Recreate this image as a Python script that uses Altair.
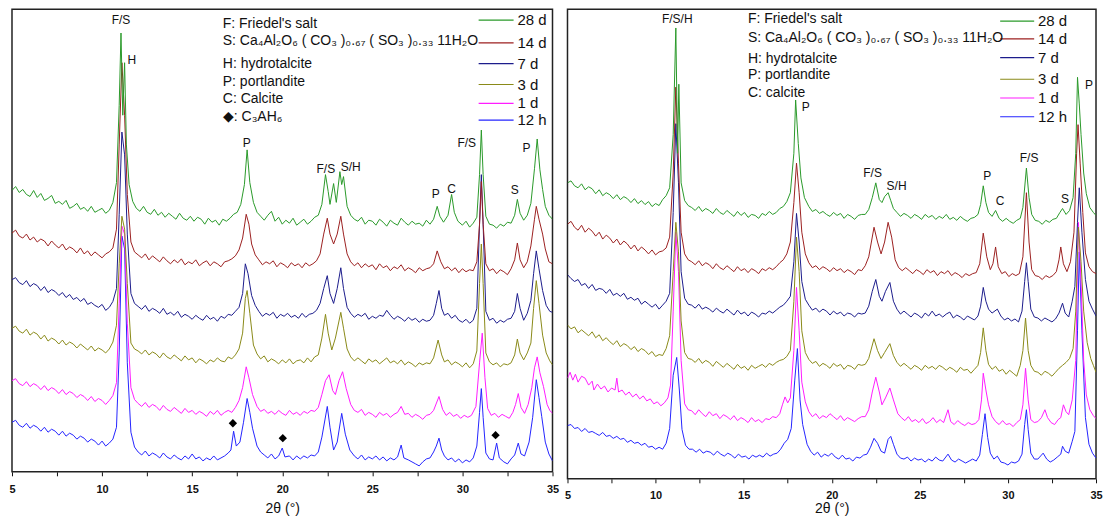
import altair as alt
import pandas as pd

# samples, top to bottom
SERIES = ["28 d", "14 d", "7 d", "3 d", "1 d", "12 h"]
COLORS = ["#2a9a2a", "#9c2020", "#1c1c8c", "#8a8a18", "#ff1cff", "#2424ff"]

# ---------------------------------------------------------------------------
# left panel patterns (2theta, intensity a.u. with stacking offset)
# ---------------------------------------------------------------------------
L28 = [(5.0,284),(5.2,288),(5.4,282),(5.6,285),(5.8,280),(6.0,278),(6.2,284),(6.4,277),(6.6,281),(6.8,274),
       (7.0,276),(7.2,279),(7.4,271),(7.6,273),(7.8,270),(8.0,274),(8.2,266),(8.4,268),(8.6,271),(8.8,265),
       (9.0,267),(9.2,263),(9.4,268),(9.6,262),(9.8,264),(10.0,266),(10.2,261),(10.4,264),(10.6,272),(10.8,292),
       (10.95,370),(11.05,443),(11.15,360),(11.25,413),(11.35,330),(11.5,290),(11.7,273),(11.9,266),(12.1,263),
       (12.3,268),(12.5,262),(12.7,260),(12.9,265),(13.1,259),(13.3,262),(13.5,257),(13.7,261),(13.9,258),
       (14.1,255),(14.3,261),(14.5,256),(14.7,254),(14.9,258),(15.1,253),(15.3,257),(15.5,255),(15.7,250),
       (15.9,256),(16.1,252),(16.3,254),(16.5,249),(16.7,255),(16.9,253),(17.1,256),(17.3,260),(17.5,262),
       (17.7,270),(17.9,290),(18.05,325),(18.2,292),(18.4,272),(18.6,262),(18.8,258),(19.0,254),(19.2,259),
       (19.4,263),(19.6,253),(19.8,257),(20.0,250),(20.2,254),(20.4,251),(20.6,256),(20.8,249),(21.0,252),
       (21.2,255),(21.4,250),(21.6,253),(21.8,257),(22.0,259),(22.2,270),(22.4,300),(22.55,283),(22.65,270),
       (22.85,291),(23.0,272),(23.2,303),(23.3,290),(23.4,298),(23.6,268),(23.8,259),(24.0,255),(24.2,253),
       (24.4,257),(24.6,250),(24.8,254),(25.0,253),(25.2,249),(25.4,255),(25.6,252),(25.8,248),(26.0,254),
       (26.2,251),(26.4,249),(26.6,256),(26.8,252),(27.0,249),(27.2,253),(27.4,250),(27.6,251),(27.8,248),
       (28.0,254),(28.2,250),(28.4,255),(28.6,268),(28.75,258),(28.95,252),(29.2,259),(29.4,280),(29.55,262),
       (29.75,253),(30.0,249),(30.2,253),(30.4,247),(30.6,251),(30.8,257),(30.95,300),(31.05,345),(31.15,300),
       (31.3,258),(31.5,250),(31.7,249),(31.9,246),(32.1,250),(32.3,248),(32.5,252),(32.7,251),(32.9,259),
       (33.05,275),(33.2,261),(33.4,254),(33.6,259),(33.8,271),(34.0,306),(34.15,336),(34.3,305),(34.45,285),
       (34.6,268),(34.8,259),(35.0,255)]

L14 = [(5.0,241),(5.2,244),(5.4,238),(5.6,236),(5.8,240),(6.0,234),(6.2,237),(6.4,232),(6.6,235),(6.8,233),
       (7.0,228),(7.2,233),(7.4,229),(7.6,226),(7.8,230),(8.0,224),(8.2,227),(8.4,225),(8.6,221),(8.8,226),
       (9.0,220),(9.2,223),(9.4,218),(9.6,222),(9.8,219),(10.0,216),(10.2,220),(10.4,222),(10.6,226),(10.8,245),
       (10.95,330),(11.1,413),(11.25,360),(11.4,280),(11.6,232),(11.8,222),(12.0,219),(12.2,216),(12.4,220),
       (12.6,214),(12.8,218),(13.0,215),(13.2,212),(13.4,217),(13.6,213),(13.8,210),(14.0,214),(14.2,211),
       (14.4,215),(14.6,209),(14.8,212),(15.0,210),(15.2,214),(15.4,208),(15.6,211),(15.8,213),(16.0,208),
       (16.2,212),(16.4,210),(16.6,207),(16.8,212),(17.0,213),(17.2,215),(17.4,218),(17.6,224),(17.8,236),
       (18.0,260),(18.15,250),(18.3,230),(18.5,219),(18.7,214),(18.9,209),(19.1,212),(19.3,210),(19.5,213),
       (19.7,207),(19.9,211),(20.1,209),(20.3,206),(20.5,211),(20.7,208),(20.9,210),(21.1,206),(21.3,211),
       (21.5,208),(21.7,210),(21.9,213),(22.1,220),(22.3,240),(22.5,256),(22.65,240),(22.85,230),(23.05,240),
       (23.25,258),(23.4,240),(23.6,220),(23.8,212),(24.0,208),(24.2,211),(24.4,206),(24.6,210),(24.8,207),
       (25.0,209),(25.2,204),(25.4,210),(25.6,206),(25.8,208),(26.0,203),(26.2,207),(26.4,205),(26.6,209),
       (26.8,203),(27.0,206),(27.2,204),(27.4,201),(27.6,206),(27.8,203),(28.0,205),(28.2,206),(28.4,210),
       (28.6,223),(28.8,212),(29.0,205),(29.2,207),(29.4,203),(29.6,206),(29.8,201),(30.0,205),(30.2,202),
       (30.4,204),(30.6,203),(30.8,212),(30.95,250),(31.05,293),(31.15,250),(31.3,210),(31.5,203),(31.7,205),
       (31.9,200),(32.1,204),(32.3,202),(32.5,199),(32.7,205),(32.9,214),(33.05,231),(33.2,214),(33.4,206),
       (33.6,212),(33.8,228),(34.0,255),(34.1,268),(34.25,255),(34.45,240),(34.6,225),(34.8,212),(35.0,210)]

L7 = [(5.0,194),(5.2,196),(5.4,191),(5.6,189),(5.8,193),(6.0,187),(6.2,190),(6.4,188),(6.6,183),(6.8,187),
      (7.0,181),(7.2,184),(7.4,182),(7.6,178),(7.8,181),(8.0,176),(8.2,179),(8.4,174),(8.6,176),(8.8,172),
      (9.0,175),(9.2,169),(9.4,171),(9.6,168),(9.8,166),(10.0,169),(10.2,163),(10.4,166),(10.6,172),(10.8,185),
      (10.95,260),(11.1,343),(11.25,320),(11.4,240),(11.6,180),(11.8,170),(12.0,167),(12.2,164),(12.4,168),
      (12.6,162),(12.8,165),(13.0,163),(13.2,160),(13.4,165),(13.6,159),(13.8,161),(14.0,158),(14.2,162),
      (14.4,156),(14.6,159),(14.8,157),(15.0,154),(15.2,158),(15.4,155),(15.6,153),(15.8,158),(16.0,154),
      (16.2,156),(16.4,152),(16.6,157),(16.8,155),(17.0,159),(17.2,158),(17.4,162),(17.6,166),(17.8,180),
      (17.95,210),(18.1,200),(18.3,178),(18.5,168),(18.7,162),(18.9,157),(19.1,160),(19.3,158),(19.5,161),
      (19.7,155),(19.9,159),(20.1,157),(20.3,160),(20.5,156),(20.7,158),(20.9,155),(21.1,160),(21.3,156),
      (21.5,159),(21.7,160),(21.9,163),(22.1,170),(22.3,185),(22.5,198),(22.65,180),(22.85,170),(23.05,185),
      (23.25,206),(23.4,185),(23.6,166),(23.8,160),(24.0,156),(24.2,159),(24.4,157),(24.6,160),(24.8,154),
      (25.0,157),(25.2,155),(25.4,158),(25.6,157),(25.8,163),(26.0,158),(26.2,154),(26.4,157),(26.6,155),
      (26.8,152),(27.0,156),(27.2,153),(27.4,155),(27.6,151),(27.8,154),(28.0,152),(28.2,153),(28.4,158),
      (28.55,170),(28.7,183),(28.85,165),(29.0,158),(29.2,160),(29.4,155),(29.6,158),(29.8,153),(30.0,151),
      (30.2,154),(30.4,150),(30.6,153),(30.8,165),(30.95,250),(31.05,300),(31.15,250),(31.3,162),(31.5,153),
      (31.7,155),(31.9,150),(32.1,153),(32.3,151),(32.5,154),(32.7,155),(32.9,162),(33.05,180),(33.2,165),
      (33.4,153),(33.6,160),(33.8,173),(33.95,200),(34.1,223),(34.25,205),(34.45,183),(34.65,168),(34.85,162),
      (35.0,161)]

L3 = [(5.0,145),(5.2,147),(5.4,142),(5.6,140),(5.8,144),(6.0,138),(6.2,141),(6.4,139),(6.6,134),(6.8,138),
      (7.0,132),(7.2,135),(7.4,133),(7.6,129),(7.8,133),(8.0,128),(8.2,131),(8.4,129),(8.6,125),(8.8,129),
      (9.0,126),(9.2,123),(9.4,127),(9.6,122),(9.8,125),(10.0,123),(10.2,120),(10.4,124),(10.6,131),(10.8,148),
      (10.95,210),(11.1,258),(11.25,245),(11.4,190),(11.6,130),(11.8,124),(12.0,122),(12.2,119),(12.4,123),
      (12.6,118),(12.8,121),(13.0,119),(13.2,115),(13.4,120),(13.6,116),(13.8,114),(14.0,118),(14.2,115),
      (14.4,112),(14.6,117),(14.8,113),(15.0,115),(15.2,110),(15.4,114),(15.6,112),(15.8,109),(16.0,113),
      (16.2,111),(16.4,115),(16.6,112),(16.8,111),(17.0,116),(17.2,114),(17.4,118),(17.6,124),(17.8,140),
      (17.95,175),(18.05,183),(18.2,160),(18.4,128),(18.6,119),(18.8,114),(19.0,117),(19.2,111),(19.4,114),
      (19.6,112),(19.8,109),(20.0,113),(20.2,110),(20.4,114),(20.6,109),(20.8,112),(21.0,113),(21.2,110),
      (21.4,115),(21.6,111),(21.8,116),(22.0,118),(22.2,135),(22.4,159),(22.55,140),(22.75,123),(22.95,135),
      (23.25,161),(23.4,145),(23.6,124),(23.8,116),(24.0,112),(24.2,115),(24.4,112),(24.6,109),(24.8,114),
      (25.0,111),(25.2,113),(25.4,109),(25.6,112),(25.8,115),(26.0,110),(26.2,112),(26.4,109),(26.6,113),
      (26.8,108),(27.0,111),(27.2,109),(27.4,106),(27.6,110),(27.8,108),(28.0,110),(28.2,109),(28.4,115),
      (28.65,133),(28.85,118),(29.0,111),(29.2,113),(29.4,108),(29.6,111),(29.8,109),(30.0,106),(30.2,110),
      (30.4,105),(30.6,109),(30.8,122),(30.95,190),(31.05,230),(31.15,190),(31.3,120),(31.5,111),(31.7,108),
      (31.9,110),(32.1,106),(32.3,109),(32.5,108),(32.7,110),(32.9,118),(33.05,134),(33.2,120),(33.4,113),
      (33.6,120),(33.8,130),(33.95,165),(34.1,193),(34.25,170),(34.45,138),(34.65,120),(34.85,112),(35.0,108)]

L1 = [(5.0,92),(5.2,94),(5.4,89),(5.6,87),(5.8,91),(6.0,86),(6.2,89),(6.4,87),(6.6,83),(6.8,87),
      (7.0,82),(7.2,85),(7.4,83),(7.6,79),(7.8,83),(8.0,78),(8.2,81),(8.4,79),(8.6,75),(8.8,78),
      (9.0,76),(9.2,72),(9.4,76),(9.6,71),(9.8,74),(10.0,72),(10.2,68),(10.4,72),(10.6,77),(10.8,90),
      (10.95,170),(11.1,248),(11.25,240),(11.4,150),(11.6,85),(11.8,73),(12.0,69),(12.2,66),(12.4,70),
      (12.6,65),(12.8,68),(13.0,66),(13.2,62),(13.4,67),(13.6,63),(13.8,61),(14.0,65),(14.2,62),(14.4,59),
      (14.6,64),(14.8,60),(15.0,62),(15.2,58),(15.4,61),(15.6,59),(15.8,56),(16.0,61),(16.2,58),(16.4,62),
      (16.6,57),(16.8,60),(17.0,62),(17.2,60),(17.4,65),(17.6,72),(17.8,85),(18.0,106),(18.15,95),(18.35,78),
      (18.6,66),(18.8,61),(19.0,63),(19.2,59),(19.4,61),(19.6,58),(19.8,62),(20.0,59),(20.2,57),(20.4,62),
      (20.6,58),(20.8,60),(21.0,57),(21.2,61),(21.4,59),(21.6,62),(21.8,61),(22.0,65),(22.2,78),(22.4,92),
      (22.6,98),(22.8,82),(22.95,78),(23.15,92),(23.35,101),(23.55,84),(23.8,68),(24.0,62),(24.2,60),
      (24.4,63),(24.6,57),(24.8,60),(25.0,58),(25.2,55),(25.4,60),(25.6,57),(25.8,59),(26.0,55),(26.2,58),
      (26.4,60),(26.6,66),(26.8,58),(27.0,59),(27.2,55),(27.4,58),(27.6,56),(27.8,53),(28.0,57),(28.2,58),
      (28.4,62),(28.7,76),(28.9,63),(29.1,57),(29.3,60),(29.5,56),(29.7,58),(29.9,54),(30.1,57),(30.3,55),
      (30.5,57),(30.75,66),(30.95,110),(31.1,140),(31.25,95),(31.4,64),(31.6,57),(31.8,59),(32.0,55),
      (32.2,58),(32.4,56),(32.6,54),(32.8,60),(32.95,68),(33.1,79),(33.25,65),(33.45,59),(33.65,68),
      (33.85,85),(34.0,105),(34.15,116),(34.3,100),(34.5,86),(34.7,68),(34.85,62),(35.0,59)]

L12H = [(5.0,50),(5.2,52),(5.4,47),(5.6,45),(5.8,49),(6.0,44),(6.2,47),(6.4,45),(6.6,41),(6.8,45),
        (7.0,40),(7.2,43),(7.4,41),(7.6,37),(7.8,41),(8.0,36),(8.2,39),(8.4,37),(8.6,33),(8.8,36),
        (9.0,34),(9.2,30),(9.4,33),(9.6,31),(9.8,27),(10.0,31),(10.2,26),(10.4,29),(10.6,33),(10.8,45),
        (10.95,120),(11.1,238),(11.25,225),(11.4,110),(11.6,40),(11.8,25),(12.0,20),(12.2,17),(12.4,21),
        (12.6,16),(12.8,19),(13.0,17),(13.2,14),(13.4,19),(13.6,15),(13.8,13),(14.0,17),(14.2,14),(14.4,12),
        (14.6,16),(14.8,13),(15.0,18),(15.2,13),(15.4,15),(15.6,11),(15.8,14),(16.0,12),(16.2,16),(16.4,12),
        (16.6,14),(16.8,16),(17.0,19),(17.15,22),(17.3,41),(17.45,26),(17.65,30),(17.85,50),(18.05,74),
        (18.2,60),(18.35,44),(18.6,26),(18.8,20),(19.0,17),(19.2,14),(19.4,18),(19.6,13),(19.8,16),(20.0,24),
        (20.15,15),(20.4,16),(20.6,12),(20.8,16),(21.0,13),(21.2,16),(21.4,14),(21.6,17),(21.8,16),(22.0,20),
        (22.2,35),(22.5,66),(22.65,45),(22.85,22),(23.05,30),(23.3,59),(23.5,38),(23.75,22),(24.0,16),
        (24.2,13),(24.4,17),(24.6,12),(24.8,15),(25.0,13),(25.2,16),(25.4,12),(25.6,15),(25.8,11),(26.0,14),
        (26.2,12),(26.4,15),(26.6,27),(26.75,14),(27.0,12),(27.2,10),(27.4,8),(27.6,6),(27.8,10),(28.0,13),
        (28.2,14),(28.4,20),(28.55,26),(28.7,34),(28.85,22),(29.0,16),(29.2,12),(29.4,14),(29.6,10),(29.8,13),
        (30.0,9),(30.2,12),(30.4,10),(30.6,14),(30.8,26),(30.95,60),(31.05,84),(31.15,55),(31.3,19),
        (31.5,13),(31.7,12),(31.9,29),(32.05,14),(32.3,10),(32.5,8),(32.7,13),(32.9,17),(33.1,29),(33.25,18),
        (33.45,16),(33.7,30),(33.9,55),(34.1,93),(34.25,75),(34.4,56),(34.6,30),(34.8,18),(35.0,11)]

# ---------------------------------------------------------------------------
# right panel patterns
# ---------------------------------------------------------------------------
R28 = [(5.0,300),(5.2,302),(5.4,297),(5.6,295),(5.8,299),(6.0,293),(6.2,296),(6.4,294),(6.6,289),(6.8,293),
       (7.0,287),(7.2,290),(7.4,288),(7.6,284),(7.8,288),(8.0,283),(8.2,286),(8.4,284),(8.6,280),(8.8,284),
       (9.0,279),(9.2,282),(9.4,278),(9.6,281),(9.8,276),(10.0,279),(10.2,277),(10.4,283),(10.6,287),(10.8,295),
       (11.0,349),(11.15,457),(11.25,330),(11.32,400),(11.45,300),(11.65,282),(11.85,277),(12.05,275),
       (12.25,272),(12.45,276),(12.65,271),(12.85,274),(13.05,272),(13.25,269),(13.45,274),(13.65,270),
       (13.85,268),(14.05,272),(14.25,269),(14.45,266),(14.65,271),(14.85,267),(15.05,270),(15.25,265),
       (15.45,268),(15.65,267),(15.85,264),(16.05,269),(16.25,267),(16.45,271),(16.65,268),(16.85,270),
       (17.05,274),(17.25,276),(17.45,281),(17.65,290),(17.85,330),(17.95,384),(18.1,340),(18.25,305),
       (18.45,285),(18.7,276),(18.9,271),(19.1,273),(19.3,269),(19.5,271),(19.7,268),(19.9,266),(20.1,270),
       (20.3,267),(20.5,269),(20.7,264),(20.9,268),(21.1,266),(21.3,263),(21.5,267),(21.7,268),(21.9,268),
       (22.1,273),(22.3,285),(22.5,300),(22.7,283),(22.85,280),(23.0,286),(23.2,290),(23.35,282),(23.5,274),
       (23.7,270),(23.9,266),(24.1,269),(24.3,267),(24.5,264),(24.7,268),(24.9,266),(25.1,263),(25.3,268),
       (25.5,265),(25.7,267),(25.9,263),(26.1,266),(26.3,264),(26.5,268),(26.7,263),(26.9,265),(27.1,262),
       (27.3,266),(27.5,263),(27.7,261),(27.9,264),(28.1,265),(28.3,268),(28.45,278),(28.6,297),(28.75,280),
       (28.9,270),(29.1,266),(29.3,272),(29.5,264),(29.7,261),(29.9,264),(30.1,261),(30.3,259),(30.5,262),
       (30.7,264),(30.85,275),(31.05,315),(31.2,285),(31.35,268),(31.55,262),(31.75,261),(31.95,258),
       (32.15,262),(32.35,260),(32.55,263),(32.75,264),(32.95,270),(33.1,274),(33.3,268),(33.5,272),
       (33.7,285),(33.85,330),(33.95,407),(34.05,380),(34.15,349),(34.3,310),(34.45,289),(34.65,275),
       (34.85,270),(35.0,267)]

R14 = [(5.0,258),(5.2,261),(5.4,255),(5.6,252),(5.8,257),(6.0,250),(6.2,254),(6.4,251),(6.6,246),(6.8,250),
       (7.0,243),(7.2,247),(7.4,244),(7.6,239),(7.8,243),(8.0,237),(8.2,241),(8.4,238),(8.6,233),(8.8,237),
       (9.0,231),(9.2,235),(9.4,232),(9.6,228),(9.8,232),(10.0,227),(10.2,230),(10.4,231),(10.6,234),(10.8,245),
       (11.0,310),(11.15,397),(11.3,320),(11.45,250),(11.65,228),(11.85,222),(12.05,220),(12.25,217),
       (12.45,221),(12.65,216),(12.85,219),(13.05,217),(13.25,213),(13.45,218),(13.65,214),(13.85,212),
       (14.05,216),(14.25,213),(14.45,210),(14.65,215),(14.85,211),(15.05,213),(15.25,209),(15.45,213),
       (15.65,211),(15.85,208),(16.05,213),(16.25,211),(16.45,214),(16.65,212),(16.85,215),(17.05,219),
       (17.25,222),(17.45,228),(17.65,240),(17.85,280),(18.0,320),(18.15,290),(18.3,250),(18.5,228),
       (18.7,219),(18.9,214),(19.1,216),(19.3,212),(19.5,215),(19.7,213),(19.9,210),(20.1,214),(20.3,211),
       (20.5,213),(20.7,209),(20.9,212),(21.1,210),(21.3,207),(21.5,212),(21.7,211),(21.9,216),(22.1,225),
       (22.4,255),(22.6,240),(22.8,228),(23.0,240),(23.2,260),(23.4,245),(23.6,222),(23.8,214),(24.0,211),
       (24.2,214),(24.4,211),(24.6,208),(24.8,212),(25.0,210),(25.2,207),(25.4,212),(25.6,209),(25.8,211),
       (26.0,206),(26.2,210),(26.4,208),(26.6,211),(26.8,206),(27.0,209),(27.2,207),(27.4,204),(27.6,208),
       (27.8,206),(28.0,208),(28.2,209),(28.4,218),(28.6,249),(28.8,225),(29.0,212),(29.15,218),(29.3,235),
       (29.45,215),(29.65,208),(29.85,210),(30.05,205),(30.25,208),(30.45,206),(30.65,208),(30.85,225),
       (31.05,290),(31.2,240),(31.35,212),(31.55,206),(31.75,205),(31.95,202),(32.15,206),(32.35,204),
       (32.55,206),(32.75,210),(32.9,222),(33.0,235),(33.15,218),(33.35,210),(33.55,220),(33.75,250),
       (33.9,330),(33.98,359),(34.1,320),(34.25,270),(34.4,229),(34.6,215),(34.8,210),(35.0,208)]

R7 = [(5.0,207),(5.2,203),(5.4,200),(5.6,202),(5.8,196),(6.0,198),(6.2,193),(6.4,197),(6.6,191),(6.8,193),
      (7.0,192),(7.2,188),(7.4,192),(7.6,186),(7.8,188),(8.0,185),(8.2,188),(8.4,182),(8.6,184),(8.8,181),
      (9.0,183),(9.2,177),(9.4,180),(9.6,177),(9.8,174),(10.0,177),(10.2,172),(10.4,176),(10.6,180),(10.8,188),
      (11.0,270),(11.15,360),(11.3,300),(11.45,210),(11.65,183),(11.85,177),(12.05,176),(12.25,173),
      (12.45,177),(12.65,172),(12.85,174),(13.05,172),(13.25,169),(13.45,173),(13.65,170),(13.85,168),
      (14.05,172),(14.25,169),(14.45,166),(14.65,171),(14.85,167),(15.05,169),(15.25,165),(15.45,169),
      (15.65,167),(15.85,164),(16.05,168),(16.25,167),(16.45,170),(16.65,168),(16.85,171),(17.05,174),
      (17.25,176),(17.45,180),(17.65,185),(17.85,220),(18.0,269),(18.15,240),(18.3,200),(18.5,182),
      (18.7,176),(18.9,171),(19.1,173),(19.3,169),(19.5,172),(19.7,170),(19.9,166),(20.1,170),(20.3,167),
      (20.5,169),(20.7,165),(20.9,168),(21.1,167),(21.3,164),(21.5,168),(21.7,167),(21.9,168),(22.1,175),
      (22.3,190),(22.5,202),(22.7,185),(22.85,180),(23.05,190),(23.3,199),(23.5,180),(23.7,172),(23.9,167),
      (24.1,170),(24.3,167),(24.5,164),(24.7,168),(24.9,166),(25.1,163),(25.3,168),(25.5,165),(25.7,170),
      (25.9,165),(26.1,167),(26.3,164),(26.5,167),(26.7,169),(26.9,163),(27.1,166),(27.3,164),(27.5,161),
      (27.7,165),(27.9,163),(28.1,161),(28.3,165),(28.45,175),(28.6,194),(28.75,180),(28.9,172),(29.1,168),
      (29.4,172),(29.6,165),(29.8,161),(30.0,163),(30.2,160),(30.4,162),(30.6,159),(30.8,170),(30.95,200),
      (31.05,219),(31.15,200),(31.3,172),(31.5,164),(31.7,163),(31.9,160),(32.1,163),(32.3,161),(32.5,159),
      (32.7,162),(32.9,168),(33.1,178),(33.25,168),(33.45,164),(33.65,180),(33.8,195),(33.95,260),
      (34.05,295),(34.2,250),(34.4,202),(34.6,180),(34.8,172),(35.0,165)]

R3 = [(5.0,156),(5.2,152),(5.4,154),(5.6,148),(5.8,151),(6.0,148),(6.2,145),(6.4,149),(6.6,143),(6.8,146),
      (7.0,140),(7.2,143),(7.4,139),(7.6,136),(7.8,140),(8.0,134),(8.2,137),(8.4,135),(8.6,131),(8.8,134),
      (9.0,129),(9.2,132),(9.4,130),(9.6,126),(9.8,129),(10.0,124),(10.2,126),(10.4,125),(10.6,132),(10.8,145),
      (11.0,210),(11.15,260),(11.3,230),(11.45,160),(11.65,128),(11.85,122),(12.05,121),(12.25,118),
      (12.45,122),(12.65,117),(12.85,120),(13.05,118),(13.25,114),(13.45,119),(13.65,116),(13.85,113),
      (14.05,117),(14.25,114),(14.45,111),(14.65,116),(14.85,112),(15.05,114),(15.25,110),(15.45,115),
      (15.65,112),(15.85,114),(16.05,116),(16.25,113),(16.45,117),(16.65,115),(16.85,118),(17.05,120),
      (17.25,121),(17.45,124),(17.65,130),(17.85,180),(18.0,245),(18.15,210),(18.3,150),(18.5,128),
      (18.7,121),(18.9,117),(19.1,119),(19.3,114),(19.5,117),(19.7,115),(19.9,112),(20.1,117),(20.3,114),
      (20.5,116),(20.7,111),(20.9,115),(21.1,114),(21.3,111),(21.5,116),(21.7,115),(21.9,116),(22.1,122),
      (22.4,142),(22.6,130),(22.8,122),(23.0,128),(23.3,137),(23.5,125),(23.7,118),(23.9,114),(24.1,117),
      (24.3,114),(24.5,111),(24.7,115),(24.9,113),(25.1,110),(25.3,115),(25.5,112),(25.7,114),(25.9,111),
      (26.1,115),(26.3,113),(26.5,110),(26.7,113),(26.9,111),(27.1,108),(27.3,113),(27.5,110),(27.7,111),
      (27.9,107),(28.1,111),(28.3,115),(28.45,128),(28.6,153),(28.75,130),(28.9,116),(29.1,111),(29.3,114),
      (29.5,109),(29.7,111),(29.9,106),(30.1,110),(30.3,107),(30.5,104),(30.7,115),(30.85,130),(31.0,163),
      (31.15,130),(31.3,115),(31.5,109),(31.7,108),(31.9,105),(32.1,109),(32.3,107),(32.5,104),(32.7,108),
      (32.9,112),(33.1,115),(33.3,118),(33.5,122),(33.7,132),(33.85,170),(34.0,255),(34.15,220),(34.3,170),
      (34.5,138),(34.7,122),(34.85,115),(35.0,108)]

R1 = [(5.0,102),(5.15,108),(5.3,100),(5.45,106),(5.6,98),(5.8,104),(6.0,102),(6.2,95),(6.4,99),(6.5,90),
      (6.7,96),(6.9,91),(7.1,94),(7.3,88),(7.5,92),(7.7,90),(7.8,102),(7.9,88),(8.1,90),(8.3,85),(8.5,88),
      (8.7,83),(8.9,86),(9.1,81),(9.3,84),(9.5,79),(9.7,81),(9.9,76),(10.1,78),(10.3,74),(10.5,77),(10.7,82),
      (10.85,95),(11.0,170),(11.15,250),(11.3,210),(11.45,120),(11.65,76),(11.85,70),(12.05,69),(12.25,65),
      (12.45,70),(12.65,66),(12.85,63),(13.05,68),(13.25,64),(13.45,66),(13.65,61),(13.85,65),(14.05,63),
      (14.25,60),(14.45,64),(14.65,59),(14.85,62),(15.05,60),(15.25,57),(15.45,62),(15.65,58),(15.85,60),
      (16.05,57),(16.25,61),(16.45,60),(16.65,63),(16.85,62),(17.05,66),(17.2,75),(17.35,83),(17.5,77),
      (17.65,82),(17.85,130),(18.0,194),(18.15,150),(18.3,98),(18.5,78),(18.7,68),(18.9,63),(19.1,66),
      (19.3,61),(19.5,64),(19.7,62),(19.9,66),(20.1,63),(20.3,60),(20.5,64),(20.7,59),(20.9,62),(21.1,60),
      (21.3,58),(21.5,61),(21.7,63),(21.9,63),(22.1,70),(22.3,88),(22.5,103),(22.7,88),(22.85,75),(23.05,82),
      (23.3,92),(23.5,80),(23.75,66),(23.95,62),(24.15,59),(24.35,63),(24.55,58),(24.75,60),(24.95,57),
      (25.15,61),(25.35,56),(25.55,58),(25.75,62),(25.95,57),(26.15,60),(26.35,57),(26.6,70),(26.75,58),
      (26.95,55),(27.15,59),(27.35,56),(27.55,54),(27.75,57),(27.95,55),(28.15,56),(28.35,60),(28.5,80),
      (28.6,107),(28.75,90),(28.9,75),(29.1,63),(29.3,58),(29.5,55),(29.7,59),(29.9,55),(30.1,56),(30.3,53),
      (30.5,57),(30.7,60),(30.85,75),(31.0,112),(31.15,80),(31.3,60),(31.5,57),(31.7,58),(31.9,62),
      (32.1,70),(32.25,62),(32.45,57),(32.65,55),(32.85,60),(33.0,62),(33.15,75),(33.3,68),(33.45,65),
      (33.65,80),(33.85,120),(34.0,260),(34.15,200),(34.3,120),(34.45,85),(34.65,70),(34.85,64),(35.0,61)]

R12H = [(5.0,54),(5.2,55),(5.4,51),(5.6,52),(5.8,48),(6.0,51),(6.2,47),(6.4,48),(6.6,46),(6.8,44),
        (7.0,47),(7.2,43),(7.4,44),(7.6,41),(7.8,43),(8.0,40),(8.2,41),(8.4,37),(8.6,39),(8.8,36),
        (9.0,37),(9.2,34),(9.4,36),(9.6,32),(9.8,33),(10.0,30),(10.2,32),(10.4,30),(10.6,36),(10.8,51),
        (11.0,105),(11.2,123),(11.35,90),(11.5,50),(11.7,34),(11.9,30),(12.1,30),(12.3,27),(12.5,30),
        (12.7,26),(12.9,28),(13.1,27),(13.3,24),(13.5,28),(13.7,25),(13.9,23),(14.1,26),(14.3,24),(14.5,21),
        (14.7,25),(14.9,22),(15.1,23),(15.3,20),(15.5,24),(15.7,22),(15.9,24),(16.1,22),(16.3,26),(16.5,23),
        (16.7,25),(16.9,26),(17.1,30),(17.3,36),(17.5,40),(17.7,51),(17.9,100),(18.05,132),(18.2,80),
        (18.35,55),(18.6,35),(18.8,28),(19.0,24),(19.2,27),(19.4,22),(19.6,25),(19.8,23),(20.0,26),(20.2,22),
        (20.4,20),(20.6,24),(20.8,20),(21.0,21),(21.2,18),(21.4,22),(21.6,21),(21.8,24),(22.0,25),(22.2,32),
        (22.4,41),(22.6,36),(22.8,28),(23.0,26),(23.2,40),(23.35,43),(23.5,35),(23.7,25),(23.9,21),(24.1,20),
        (24.3,22),(24.5,18),(24.7,21),(24.9,19),(25.1,20),(25.3,17),(25.5,20),(25.7,18),(25.9,22),(26.1,19),
        (26.3,18),(26.6,25),(26.8,19),(27.0,17),(27.2,20),(27.4,18),(27.6,16),(27.8,18),(28.0,20),(28.2,18),
        (28.4,24),(28.55,45),(28.7,66),(28.85,42),(29.0,26),(29.2,20),(29.4,23),(29.6,17),(29.8,16),(30.0,14),
        (30.2,17),(30.4,16),(30.6,18),(30.8,25),(30.95,55),(31.05,70),(31.15,50),(31.3,26),(31.5,20),
        (31.7,20),(31.9,24),(32.0,26),(32.2,20),(32.4,17),(32.6,19),(32.8,22),(33.0,25),(33.1,33),(33.25,28),
        (33.45,26),(33.65,38),(33.8,48),(33.95,150),(34.05,230),(34.2,150),(34.4,62),(34.6,35),(34.8,26),
        (35.0,21)]

# ---------------------------------------------------------------------------
# annotations
# ---------------------------------------------------------------------------
NOTES_L = ["F: Friedel's salt",
           "S: Ca₄Al₂O₆ ( CO₃ )₀.₆₇ ( SO₃ )₀.₃₃ 11H₂O",
           "H: hydrotalcite", "P: portlandite", "C: Calcite", "◆: C₃AH₆"]
NOTES_L_Y = [452, 435, 412, 394, 376, 358]
NOTES_L_X = 16.70

NOTES_R = ["F: Friedel's salt",
           "S: Ca₄Al₂O₆ ( CO₃ )₀.₆₇ ( SO₃ )₀.₃₃ 11H₂O",
           "H: hydrotalcite", "P: portlandite", "C: calcite"]
NOTES_R_Y = [466, 447, 426, 409, 391]
NOTES_R_X = 15.24

PEAKS_L = [(11.05, 456, "F/S"), (11.65, 416, "H"), (18.03, 332, "P"), (22.42, 306, "F/S"),
           (23.80, 308, "S/H"), (28.52, 280, "P"), (29.40, 286, "C"), (30.24, 332, "F/S"),
           (32.90, 284, "S"), (33.56, 327, "P")]
PEAKS_R = [(11.23, 466, "F/S/H"), (18.53, 377, "P"), (22.32, 310, "F/S"), (23.68, 297, "S/H"),
           (28.83, 307, "P"), (29.56, 282, "C"), (31.20, 325, "F/S"), (33.24, 284, "S"),
           (34.60, 399, "P")]
C3AH6_L = [(17.26, 49), (20.03, 34), (31.84, 37)]

# legend rows (line start, line end, label x, row heights)
LEG_L = (30.90, 32.84, 33.06, [456, 433, 412, 391, 372, 355])
LEG_R = (29.56, 31.49, 31.71, [464, 446, 427, 405, 386, 367])

TICKS = [5, 7.5, 10, 12.5, 15, 17.5, 20, 22.5, 25, 27.5, 30, 32.5, 35]
FONT = "Liberation Sans"


def panel(curves, notes, notes_x, notes_y, peaks, leg, ymax, width, height,
          label_pad, title_pad, diamonds=None):
    rows = []
    # draw the bottom pattern first so the 28 d curve ends up on top
    for name, pts in reversed(list(zip(SERIES, curves))):
        for t, v in pts:
            rows.append({"theta": t, "intensity": v, "sample": name})
    df = pd.DataFrame(rows)

    xs = alt.Scale(domain=[5, 35], nice=False, zero=False)
    ys = alt.Scale(domain=[0, ymax], nice=False, zero=False)
    col = alt.Scale(domain=SERIES, range=COLORS)

    lines = alt.Chart(df).mark_line(strokeWidth=1, strokeJoin="round", clip=True).encode(
        x=alt.X("theta:Q", scale=xs, title="2θ (°)",
                axis=alt.Axis(values=TICKS, grid=False, domain=False, tickSize=4, tickColor="#111",
                              labelExpr="datum.value % 5 == 0 ? format(datum.value, 'd') : ''",
                              labelFont=FONT, labelFontSize=11, labelFontWeight="bold",
                              labelColor="#111", labelPadding=label_pad, labelOverlap=False,
                              labelFlush=False, titleFont=FONT, titleFontSize=14,
                              titleFontWeight="normal", titleColor="#111", titlePadding=title_pad)),
        y=alt.Y("intensity:Q", scale=ys, axis=None),
        color=alt.Color("sample:N", scale=col, legend=None),
    )

    x1, x2, xt, leg_y = leg
    leg_df = pd.DataFrame({"sample": SERIES, "x1": x1, "x2": x2, "xt": xt, "y": leg_y})
    leg_lines = alt.Chart(leg_df).mark_rule(strokeWidth=1.2).encode(
        x=alt.X("x1:Q", scale=xs), x2="x2:Q",
        y=alt.Y("y:Q", scale=ys),
        color=alt.Color("sample:N", scale=col, legend=None),
    )
    leg_text = alt.Chart(leg_df).mark_text(align="left", baseline="middle", font=FONT,
                                           fontSize=15, color="#111").encode(
        x=alt.X("xt:Q", scale=xs), y=alt.Y("y:Q", scale=ys), text="sample:N")

    notes_df = pd.DataFrame({"x": notes_x, "y": notes_y, "label": notes})
    notes_text = alt.Chart(notes_df).mark_text(align="left", baseline="middle", font=FONT,
                                               fontSize=14, color="#111").encode(
        x=alt.X("x:Q", scale=xs), y=alt.Y("y:Q", scale=ys), text="label:N")

    peaks_df = pd.DataFrame(peaks, columns=["x", "y", "label"])
    peaks_text = alt.Chart(peaks_df).mark_text(align="center", baseline="middle", font=FONT,
                                               fontSize=12, color="#111").encode(
        x=alt.X("x:Q", scale=xs), y=alt.Y("y:Q", scale=ys), text="label:N")

    layers = [lines, leg_lines, leg_text, notes_text, peaks_text]
    if diamonds:
        dia_df = pd.DataFrame(diamonds, columns=["x", "y"])
        layers.append(alt.Chart(dia_df).mark_point(shape="diamond", filled=True, size=70,
                                                   color="#000", opacity=1).encode(
            x=alt.X("x:Q", scale=xs), y=alt.Y("y:Q", scale=ys)))
    return alt.layer(*layers).properties(width=width, height=height)


left = panel([L28, L14, L7, L3, L1, L12H], NOTES_L, NOTES_L_X, NOTES_L_Y, PEAKS_L, LEG_L,
             467, 541, 463, 8, 7, diamonds=C3AH6_L)
right = panel([R28, R14, R7, R3, R1, R12H], NOTES_R, NOTES_R_X, NOTES_R_Y, PEAKS_R, LEG_R,
              476, 529, 470, 7, 1)

chart = alt.hconcat(left, right, spacing=15, bounds="flush").properties(
    padding={"left": 0, "top": 0, "right": 0, "bottom": 0},
    background="white",
).configure_view(
    stroke="#222", strokeWidth=1.5
)

chart.save("out.html", embed_options={"renderer": "svg", "actions": False})
